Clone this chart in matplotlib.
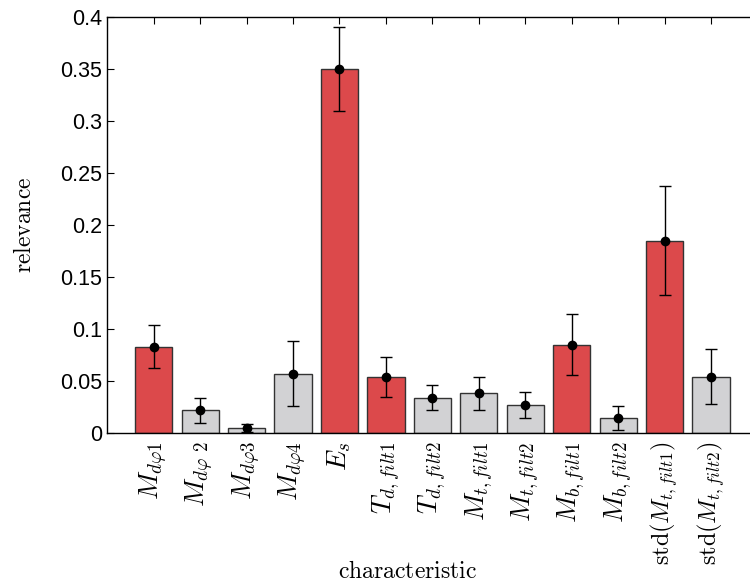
import matplotlib
matplotlib.use("Agg")
import matplotlib.pyplot as plt
import numpy as np

plt.rcParams['mathtext.fontset'] = 'cm'
plt.rcParams['font.family'] = ['Liberation Sans', 'DejaVu Sans']

labels = [r'$M_{d\varphi1}$', r'$M_{d\varphi}\,_2$', r'$M_{d\varphi3}$', r'$M_{d\varphi4}$',
          r'$E_s$', r'$T_{d,filt1}$', r'$T_{d,filt2}$', r'$M_{t,filt1}$', r'$M_{t,filt2}$',
          r'$M_{b,filt1}$', r'$M_{b,filt2}$', r'$\mathrm{std}(M_{t,filt1})$', r'$\mathrm{std}(M_{t,filt2})$']
values = [0.083, 0.022, 0.005, 0.057, 0.350, 0.054, 0.034, 0.038, 0.027, 0.085, 0.014, 0.185, 0.054]
errors = [0.021, 0.012, 0.004, 0.031, 0.040, 0.019, 0.012, 0.016, 0.0125, 0.029, 0.0115, 0.0525, 0.0265]
highlight = [True, False, False, False, True, True, False, False, False, True, False, True, False]

red = '#DC494B'
grey = '#D2D2D4'

fig = plt.figure(figsize=(7.5, 5.85), dpi=100)
ax = fig.add_axes([0.143, 0.26, 0.867, 0.711])

x = np.arange(len(values))
colors = [red if h else grey for h in highlight]
ax.bar(x, values, width=0.8, color=colors, edgecolor='#333333', linewidth=1.0, zorder=2)
ax.errorbar(x, values, yerr=errors, fmt='o', color='black', markersize=6,
            ecolor='black', elinewidth=1.0, capsize=4.5, capthick=1.0, zorder=3)

ax.set_xlim(-1, 13)
ax.set_ylim(0, 0.4)
ax.set_yticks([0, 0.05, 0.1, 0.15, 0.2, 0.25, 0.3, 0.35, 0.4])
ax.set_yticklabels(['0', '0.05', '0.1', '0.15', '0.2', '0.25', '0.3', '0.35', '0.4'], fontsize=15.5)
ax.set_xticks(x)
ax.set_xticklabels(labels, rotation=90)
for i, t in enumerate(ax.get_xticklabels()):
    t.set_fontsize(17.5 if i >= 11 else 19.5)
ax.tick_params(axis='both', direction='in', top=True, right=True, length=5, width=0.8)
ax.tick_params(axis='x', pad=6)
for s in ax.spines.values():
    s.set_linewidth(1.0)

fig.text(25 / 750, 1 - 225 / 585, r'$\mathrm{relevance}$', fontsize=17, rotation=90,
         ha='center', va='center')
fig.text(408 / 750, 1 - 572 / 585, r'$\mathrm{characteristic}$', fontsize=17,
         ha='center', va='center')

fig.savefig('out.png', dpi=100)
